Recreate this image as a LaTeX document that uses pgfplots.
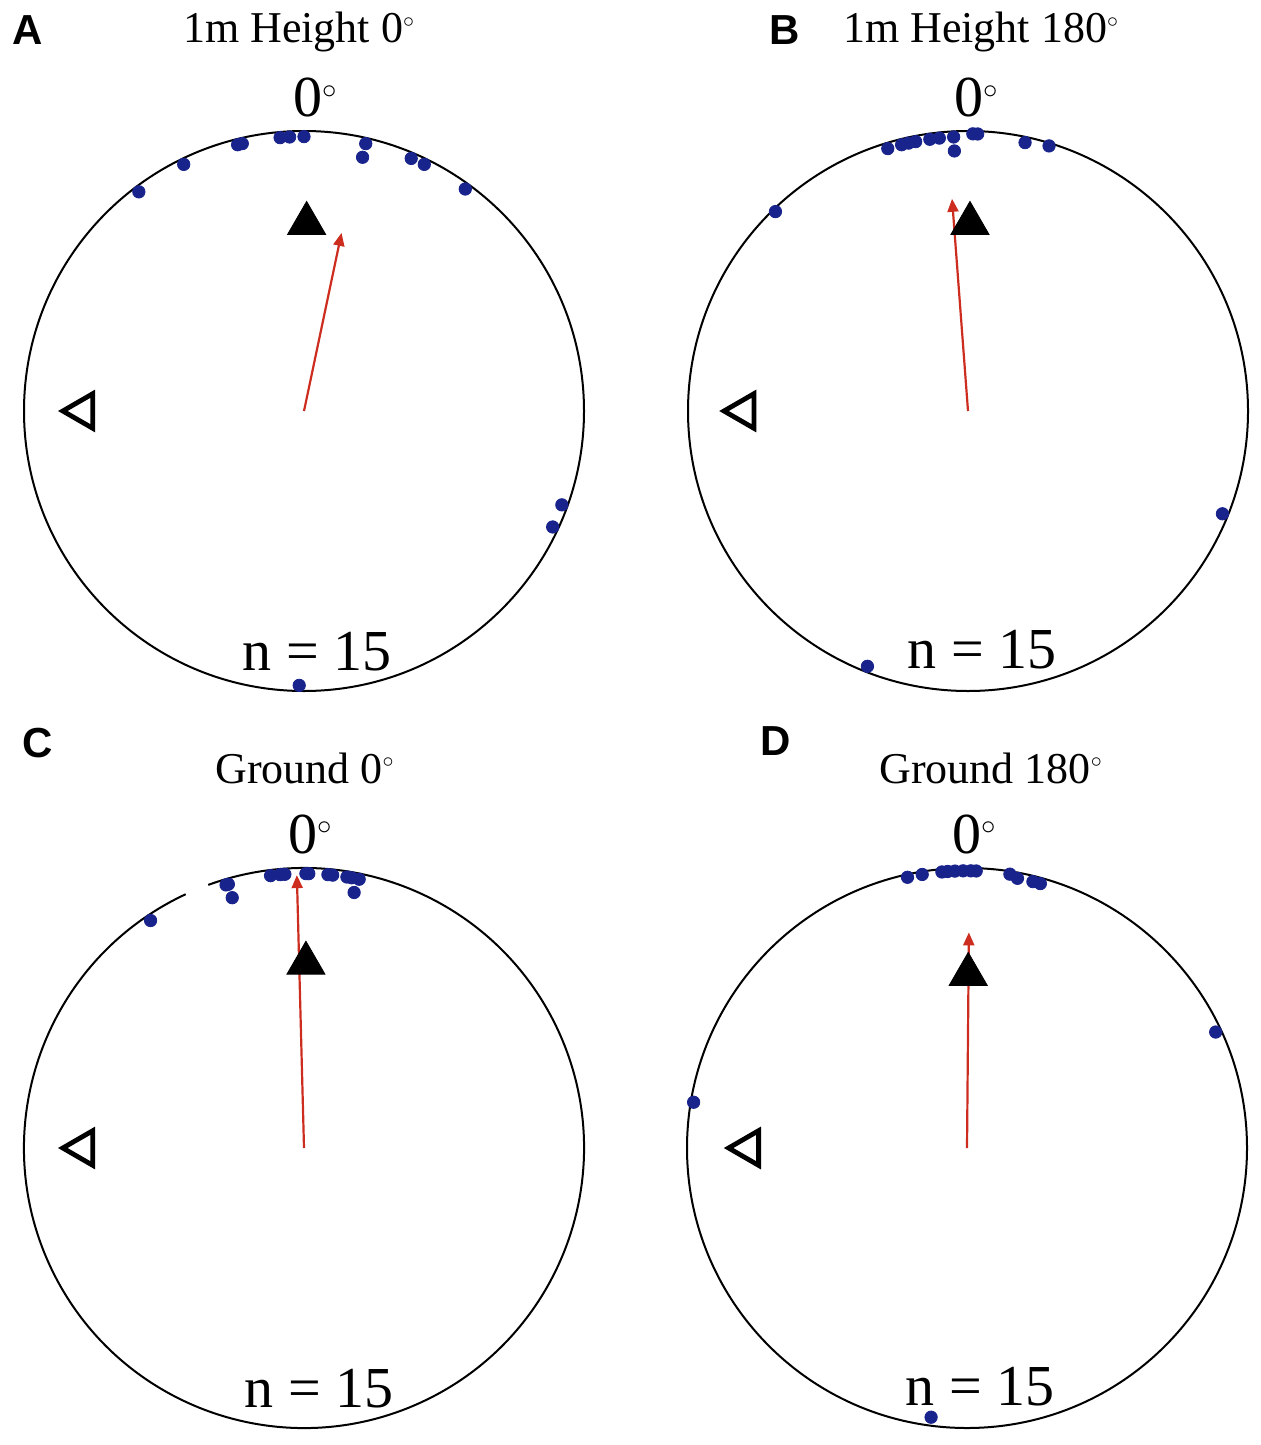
\documentclass[border=0pt]{standalone}
\usepackage{fontspec}
\setmainfont{Liberation Serif}
\newfontfamily\labelfont{Liberation Sans}
\usepackage{pgfplots}
\pgfplotsset{compat=1.18}
\usepackage{pgfplotstable}
\usetikzlibrary{arrows.meta}
\definecolor{dotblue}{RGB}{25,35,140}
\definecolor{arrowred}{RGB}{205,45,30}
\newcommand{\dg}{${}^{\scriptscriptstyle\circ}$}

% bearing a (degrees clockwise from 0 deg), radius r (1 = circle)
\pgfplotstableread{
a r
323 0.98
334 0.98
346 0.98
347 0.98
355 0.98
357 0.98
0 0.98
13 0.98
13 0.93
23 0.98
26 0.98
36 0.98
110 0.98
115 0.98
181 0.98
}\dataA
\pgfplotstableread{
a r
316 0.99
343 0.98
346 0.98
347.5 0.98
349 0.98
352 0.98
354 0.98
357 0.98
357 0.93
1 0.99
2 0.99
12 0.98
17 0.99
112 0.98
201.5 0.98
}\dataB
\pgfplotstableread{
a r
326 0.98
343.5 0.98
344 0.98
344 0.93
353 0.98
355 0.98
356 0.98
0.4 0.98
1 0.98
5 0.98
6 0.98
9 0.98
10 0.98
11.6 0.98
11.1 0.93
}\dataC
\pgfplotstableread{
a r
347.6 0.99
350.7 0.99
354.8 0.99
356 0.99
357.5 0.99
359.2 0.99
0.8 0.99
1.9 0.99
8.9 0.99
10.6 0.98
13.9 0.98
15.5 0.98
65 0.98
279.5 0.99
187.6 0.97
}\dataD

\pgfplotsset{
  circ/.style={hide axis, scale only axis, width=280pt, height=280pt,
    xmin=-1, xmax=1, ymin=-1, ymax=1, clip=false, anchor=center},
  /pgfplots/table/pol/.style={x expr={\thisrow{r}*sin(\thisrow{a})}, y expr={\thisrow{r}*cos(\thisrow{a})}},
  dots/.style={only marks, mark=*, mark size=3.1pt, color=dotblue},
  meanarrow/.style={arrowred, line width=1.1pt, -{Triangle[length=6.5pt,width=5.5pt]}},
  filltri/.style={only marks, mark=triangle*, mark size=11pt, black},
  opentri/.style={only marks, mark=triangle, mark size=10pt, black, mark options={rotate=90, line width=2.4pt}},
}

\newcommand{\panel}[6]{%
  % #1 data, #2 arrow bearing, #3 arrow length, #4 filled tri bearing, #5 filled tri radius, #6 open tri radius
  \addplot[dots] table[pol] {#1};
  \addplot[meanarrow] table[pol, row sep=\\] {a r\\ 0 0\\ #2 #3\\};
  \addplot[filltri] table[pol, row sep=\\] {a r\\ #4 #5\\};
  \addplot[opentri] table[pol, row sep=\\] {a r\\ 270 #6\\};
}

\begin{document}
\begin{tikzpicture}
% A
\begin{axis}[circ, at={(152pt,-205.5pt)}]
  \draw[line width=1pt] (axis cs:0,0) circle[radius=140pt];
  \panel{\dataA}{11.9}{0.65}{0.8}{0.67}{0.79}
\end{axis}
% B
\begin{axis}[circ, at={(484pt,-205.5pt)}]
  \draw[line width=1pt] (axis cs:0,0) circle[radius=140pt];
  \panel{\dataB}{355.7}{0.76}{0.6}{0.67}{0.80}
\end{axis}
% C
\begin{axis}[circ, at={(152pt,-574pt)}]
  \draw[line width=1pt] (axis cs:0,0) ++(115:140pt) arc[start angle=115, end angle=470, radius=140pt];
  \panel{\dataC}{358.5}{0.975}{0.6}{0.66}{0.79}
\end{axis}
% D
\begin{axis}[circ, at={(483.5pt,-574pt)}]
  \draw[line width=1pt] (axis cs:0,0) circle[radius=140pt];
  \panel{\dataD}{0.5}{0.77}{0.4}{0.62}{0.78}
\end{axis}

\begin{scope}[x=0.5pt, y=-0.5pt]
  \tikzset{lab/.style={anchor=base west, inner sep=0pt, font=\labelfont\bfseries\fontsize{21}{21}\selectfont},
           ttl/.style={anchor=base, inner sep=0pt, font=\fontsize{22}{22}\selectfont},
           big/.style={anchor=base, inner sep=0pt, font=\fontsize{29}{29}\selectfont}}
  \node[lab] at (12,45) {A};
  \node[lab] at (769,45) {B};
  \node[lab] at (22,757) {C};
  \node[lab] at (760,755) {D};
  \node[ttl] at (299,43) {1m Height 0\dg};
  \node[ttl] at (981,43) {1m Height 180\dg};
  \node[ttl] at (305,783) {Ground 0\dg};
  \node[ttl] at (991,783) {Ground 180\dg};
  \node[big] at (316,117) {0\dg};
  \node[big] at (977,117) {0\dg};
  \node[big] at (311,853) {0\dg};
  \node[big] at (975,853) {0\dg};
  \node[big] at (317,670) {n = 15};
  \node[big] at (982,668) {n = 15};
  \node[big] at (319,1407) {n = 15};
  \node[big] at (980,1405) {n = 15};
\end{scope}
\pgfresetboundingbox
\path (0pt,0pt) rectangle (630.5pt,-722.5pt);
\end{tikzpicture}
\end{document}
